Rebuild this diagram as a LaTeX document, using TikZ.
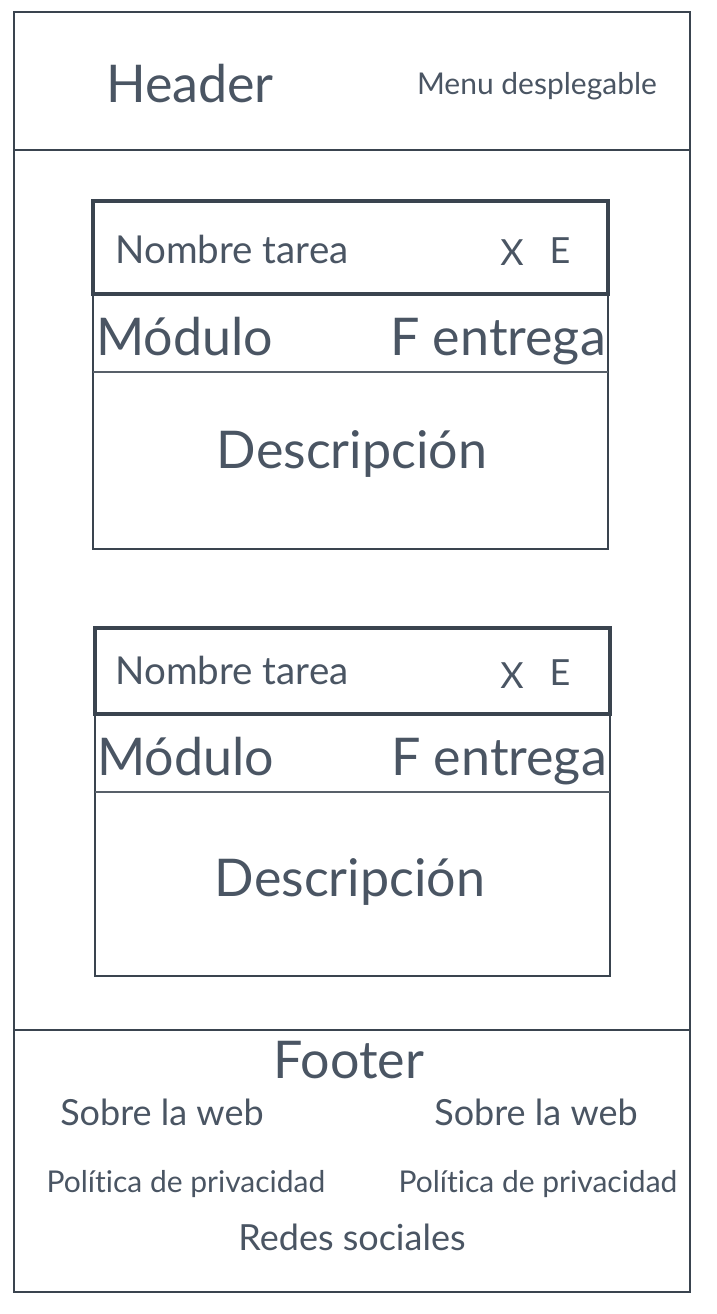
\documentclass[tikz,border=0pt]{standalone}
\usepackage{fontspec}
\setmainfont{Lato}[Ligatures=NoCommon]
\usetikzlibrary{positioning}
\definecolor{linea}{HTML}{3A444F}
\definecolor{texto}{HTML}{4A5563}

\begin{document}
\begin{tikzpicture}[x=1pt,y=-1pt,
	marco/.style = {draw=linea, line width=2.6pt},
	fila/.style = {draw=linea, line width=3.6pt},
	sep/.style = {draw=linea!85, line width=2pt},
	txt/.style = {text=texto, inner sep=0pt, anchor=base},
	grande/.style = {txt, font=\fontsize{52}{56}\selectfont},
	nombre/.style = {txt, font=\fontsize{38.5}{42}\selectfont},
	medio/.style = {txt, font=\fontsize{36}{40}\selectfont},
	chico/.style = {txt, font=\fontsize{30}{34}\selectfont}]
	\useasboundingbox (0,0) rectangle (716,1314);
	% pagina
	\draw[marco] (14,12) rectangle (690,1292);
	\draw[marco] (14,150) -- (690,150);
	\draw[marco] (14,1030) -- (690,1030);
	\node[grande] (header) at (190,102) {Header};
	\node[chico] (menu) at (537,95) {Menu desplegable};
	% tarea 1
	\draw[marco] (93,201) rectangle (608,549);
	\draw[fila] (93,201) rectangle (608,294);
	\draw[sep] (93,372) -- (608,372);
	\node[nombre] (nombre1) at (232,263) {Nombre tarea};
	\node[medio] (x1) at (512,265) {X};
	\node[medio] (e1) at (560,263) {E};
	\node[grande, anchor=base west] (modulo1) at (96,355) {Módulo};
	\node[grande, anchor=base east] (fecha1) at (606,355) {F entrega};
	\node[grande] (desc1) at (352,468) {Descripción};
	% tarea 2
	\draw[marco] (95,628) rectangle (610,976);
	\draw[fila] (95,628) rectangle (610,714);
	\draw[sep] (95,792) -- (610,792);
	\node[nombre] (nombre2) at (232,684) {Nombre tarea};
	\node[medio] (x2) at (512,688) {X};
	\node[medio] (e2) at (560,685) {E};
	\node[grande, anchor=base west] (modulo2) at (97,775) {Módulo};
	\node[grande, anchor=base east] (fecha2) at (607,775) {F entrega};
	\node[grande] (desc2) at (350,896) {Descripción};
	% footer
	\node[grande] (footer) at (349,1078) {Footer};
	\node[medio] (sobre1) at (162,1125) {Sobre la web};
	\node[medio] (sobre2) at (536,1125) {Sobre la web};
	\node[chico] (poli1) at (186,1192) {Política de privacidad};
	\node[chico] (poli2) at (538,1192) {Política de privacidad};
	\node[medio] (redes) at (352,1250) {Redes sociales};
\end{tikzpicture}
\end{document}
